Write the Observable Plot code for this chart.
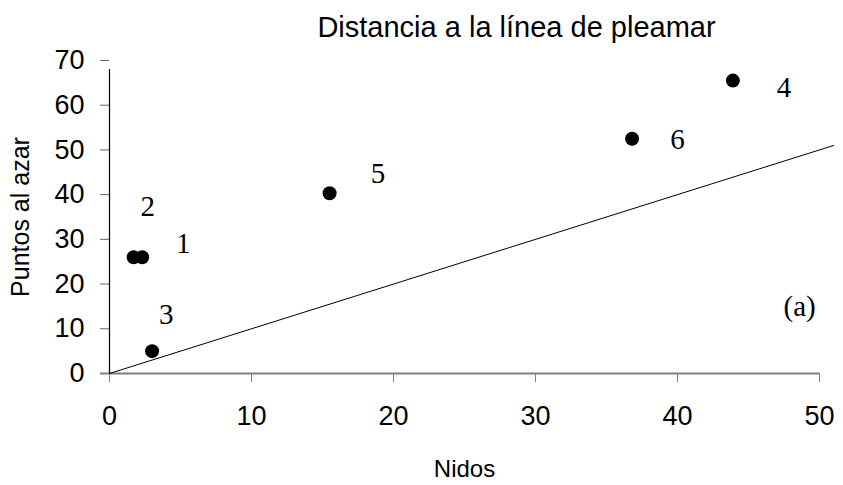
<!DOCTYPE html>
<html>
<head>
<meta charset="utf-8">
<script src="https://cdn.jsdelivr.net/npm/d3@7"></script>
<script src="https://cdn.jsdelivr.net/npm/@observablehq/plot@0.6"></script>
<style>
  html, body { margin: 0; padding: 0; background: #fff; }
  #chart svg { display: block; }
</style>
</head>
<body>
<div id="chart"></div>
<script>
// Sites: nests (Nidos) vs random points (Puntos al azar)
const siteIds   = ["1", "2", "3", "4", "5", "6"];
const nidos     = [2.3, 1.7, 3.0, 43.9, 15.5, 36.8];
const puntos    = [26, 26, 5, 65.5, 40.3, 52.5];

// Site number labels, placed beside each dot (data coordinates)
const labelText = ["1", "2", "3", "4", "5", "6", "(a)"];
const labelX    = [5.2, 2.7, 4.0, 47.5, 18.9, 40.0, 48.6];
const labelY    = [29.1, 37.2, 13.2, 64.0, 44.7, 52.3, 15.0];

// 1:1 reference line
const refX = [0, 51];
const refY = [0, 51];

const xTicks = [0, 10, 20, 30, 40, 50];
const yTicks = [0, 10, 20, 30, 40, 50, 60, 70];

const sites  = siteIds.map((id, i) => ({id, x: nidos[i], y: puntos[i]}));
const labels = labelText.map((t, i) => ({t, x: labelX[i], y: labelY[i]}));
const ref    = refX.map((x, i) => ({x, y: refY[i]}));

const sans = "'Liberation Sans', Arial, Helvetica, sans-serif";
const serif = "'Liberation Serif', 'Times New Roman', serif";

const chart = Plot.plot({
  width: 843,
  height: 485,
  marginLeft: 109,
  marginRight: 24,
  marginTop: 60,
  marginBottom: 112,
  style: {fontFamily: sans, fontSize: "27px", background: "#fff", color: "#000"},
  x: {domain: [0, 50], ticks: xTicks},
  y: {domain: [0, 70], ticks: yTicks},
  marks: [
    // y axis ticks and labels
    Plot.axisY({ticks: yTicks, tickSize: 9, tickPadding: 16, stroke: "#666",
      label: null, tickFormat: d => d, fill: "#000"}),
    // x axis ticks and labels
    Plot.axisX({ticks: xTicks, tickSize: 9, tickPadding: 23, stroke: "#808080",
      label: null, tickFormat: d => d, fill: "#000"}),
    // x axis baseline (grey) and y axis line (black)
    Plot.ruleY([0], {stroke: "#808080", strokeWidth: 2, insetLeft: -9}),
    Plot.ruleX([0], {y1: 0, y2: 70, stroke: "#000", strokeWidth: 1.2, insetBottom: -9}),
    // reference line
    Plot.line(ref, {x: "x", y: "y", stroke: "#000", strokeWidth: 1, clip: false}),
    // sites
    Plot.dot(sites, {x: "x", y: "y", r: 7, fill: "#000", stroke: "none"}),
    Plot.text(labels, {x: "x", y: "y", text: "t", fontFamily: serif, fontSize: 29,
      fill: "#000", textAnchor: "middle", lineAnchor: "middle"}),
    // title and axis titles
    Plot.text(["Distancia a la línea de pleamar"], {frameAnchor: "top", dx: 52, dy: -33,
      fontSize: 29, fill: "#000", textAnchor: "middle", lineAnchor: "middle"}),
    Plot.text(["Nidos"], {frameAnchor: "bottom", dy: 96, fontSize: 24, fill: "#000",
      textAnchor: "middle", lineAnchor: "middle"}),
    Plot.text(["Puntos al azar"], {frameAnchor: "left", dx: -89, rotate: -90,
      fontSize: 25, fill: "#000", textAnchor: "middle", lineAnchor: "middle"})
  ]
});

document.getElementById("chart").append(chart);
</script>
</body>
</html>
